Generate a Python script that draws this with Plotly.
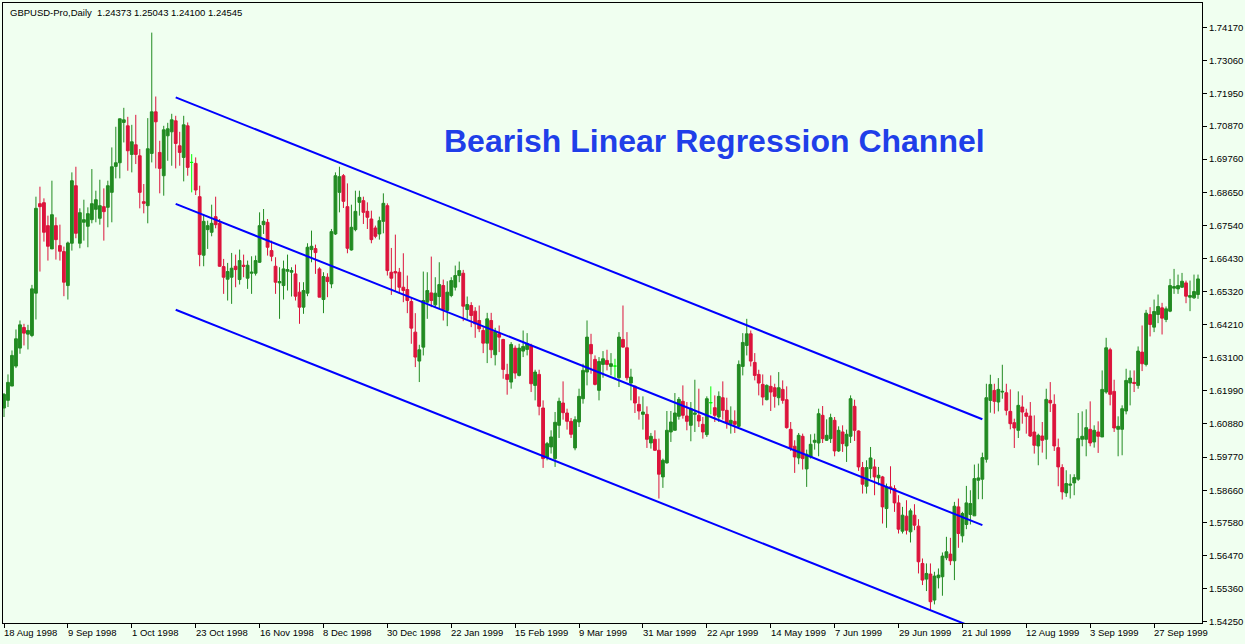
import plotly.graph_objects as go

# ---------------- data ----------------
bar_index = list(range(300))

open_ = [
    1.61415, 1.61672, 1.62152, 1.62821, 1.63424, 1.64116, 1.63893, 1.63848, 1.65266, 1.68268,
    1.68301, 1.67531, 1.66750, 1.67531, 1.66861, 1.66661, 1.65522, 1.66940, 1.68870, 1.66940,
    1.67643, 1.67509, 1.67732, 1.68078, 1.67777, 1.68167, 1.68145, 1.68647, 1.69517, 1.69640,
    1.70991, 1.70879, 1.69919, 1.70243, 1.69875, 1.68335, 1.68201, 1.69953, 1.71348, 1.69986,
    1.69205, 1.70544, 1.70677, 1.71046, 1.70209, 1.69819, 1.70879, 1.69651, 1.69618, 1.68502,
    1.66538, 1.67397, 1.67308, 1.67832, 1.67609, 1.66158, 1.65734, 1.65801, 1.66169, 1.65723,
    1.66203, 1.65768, 1.65935, 1.65935, 1.66303, 1.67564, 1.67642, 1.66694, 1.66169, 1.65611,
    1.65522, 1.66002, 1.65969, 1.65913, 1.65299, 1.64797, 1.65266, 1.66728, 1.66761, 1.66080,
    1.65054, 1.65801, 1.65578, 1.67252, 1.68647, 1.69205, 1.68167, 1.66716, 1.67397, 1.68312,
    1.68368, 1.68011, 1.67754, 1.67453, 1.67252, 1.67676, 1.68200, 1.65968, 1.65991, 1.65968,
    1.65466, 1.65388, 1.64986, 1.63960, 1.62989, 1.63457, 1.64964, 1.65276, 1.64875, 1.65154,
    1.65522, 1.64685, 1.65187, 1.65466, 1.65857, 1.65935, 1.64718, 1.64852, 1.64663, 1.64350,
    1.64015, 1.63591, 1.64350, 1.63201, 1.63904, 1.63714, 1.62542, 1.62286, 1.63424, 1.62509,
    1.63324, 1.63380, 1.63514, 1.62174, 1.62543, 1.61416, 1.59775, 1.60110, 1.59719, 1.60835,
    1.61583, 1.61248, 1.60969, 1.60076, 1.60947, 1.61728, 1.62621, 1.63547, 1.63045, 1.62007,
    1.62877, 1.63011, 1.62811, 1.62822, 1.62431, 1.63715, 1.63436, 1.62252, 1.62141, 1.61538,
    1.61203, 1.61203, 1.60244, 1.60366, 1.59998, 1.59105, 1.59574, 1.60612, 1.60668, 1.61137,
    1.61639, 1.61148, 1.60835, 1.61203, 1.61170, 1.60868, 1.60522, 1.61594, 1.61426, 1.61114,
    1.61761, 1.61337, 1.60891, 1.60969, 1.60801, 1.62810, 1.63513, 1.63904, 1.62944, 1.62542,
    1.62208, 1.61694, 1.62141, 1.62096, 1.61761, 1.62040, 1.61694, 1.60701, 1.60132, 1.59741,
    1.60467, 1.59373, 1.59775, 1.60266, 1.60243, 1.61170, 1.60333, 1.60388, 1.61002, 1.59975,
    1.60612, 1.60143, 1.60467, 1.61471, 1.60645, 1.59418, 1.58792, 1.59384, 1.59439, 1.59071,
    1.59105, 1.58044, 1.58770, 1.58714, 1.58234, 1.57285, 1.57788, 1.57263, 1.57821, 1.57453,
    1.56203, 1.55678, 1.55846, 1.54975, 1.55723, 1.55757, 1.56393, 1.56516, 1.56293, 1.58100,
    1.57129, 1.57509, 1.57844, 1.57799, 1.58993, 1.59027, 1.59696, 1.61671, 1.62006, 1.61616,
    1.61950, 1.61928, 1.61303, 1.60924, 1.60667, 1.61448, 1.61247, 1.61147, 1.60611, 1.60143,
    1.60477, 1.60366, 1.61672, 1.61538, 1.60087, 1.59418, 1.58569, 1.58826, 1.58904, 1.59027,
    1.60366, 1.60366, 1.60701, 1.60277, 1.60612, 1.60444, 1.61951, 1.63368, 1.61973, 1.60701,
    1.60701, 1.61315, 1.62252, 1.62274, 1.62174, 1.63290, 1.62877, 1.64551, 1.64127, 1.64551,
    1.64774, 1.64384, 1.64663, 1.65433, 1.65410, 1.65466, 1.65611, 1.65131, 1.65109, 1.65221,
]

high = [
    1.61918, 1.62542, 1.63346, 1.64049, 1.64350, 1.64239, 1.64205, 1.65545, 1.68502, 1.68837,
    1.68446, 1.67866, 1.69038, 1.67810, 1.67564, 1.66828, 1.66995, 1.69317, 1.69506, 1.68111,
    1.68401, 1.68145, 1.69428, 1.68703, 1.69071, 1.68781, 1.69038, 1.70154, 1.70846, 1.71124,
    1.71482, 1.71180, 1.70912, 1.71247, 1.70098, 1.68926, 1.71136, 1.74004, 1.71861, 1.70377,
    1.70879, 1.70979, 1.71281, 1.71214, 1.70677, 1.71214, 1.70991, 1.69930, 1.69819, 1.68870,
    1.67922, 1.67698, 1.68234, 1.68502, 1.67754, 1.66415, 1.66281, 1.66616, 1.66560, 1.66728,
    1.66560, 1.66359, 1.66504, 1.66527, 1.67977, 1.68089, 1.67754, 1.67029, 1.66471, 1.66136,
    1.66359, 1.66560, 1.66136, 1.66225, 1.65634, 1.65634, 1.66940, 1.67364, 1.66895, 1.66136,
    1.65969, 1.65935, 1.67420, 1.69317, 1.69506, 1.69261, 1.68948, 1.68234, 1.68703, 1.68703,
    1.68502, 1.68312, 1.68033, 1.67531, 1.67832, 1.68614, 1.68279, 1.66783, 1.67230, 1.66113,
    1.66604, 1.65857, 1.65131, 1.64596, 1.63536, 1.65991, 1.65968, 1.66493, 1.65801, 1.66303,
    1.65723, 1.65667, 1.65801, 1.66192, 1.66326, 1.66047, 1.65154, 1.64964, 1.64797, 1.64852,
    1.64127, 1.64607, 1.64607, 1.64105, 1.64183, 1.63737, 1.62899, 1.63625, 1.63513, 1.63569,
    1.64015, 1.63927, 1.63570, 1.62699, 1.62699, 1.61672, 1.60277, 1.60668, 1.61282, 1.61762,
    1.62308, 1.61393, 1.61081, 1.61137, 1.62063, 1.62900, 1.64351, 1.63904, 1.63179, 1.63123,
    1.63324, 1.63369, 1.63257, 1.63067, 1.63960, 1.64853, 1.63960, 1.62732, 1.62174, 1.61806,
    1.61806, 1.61471, 1.60579, 1.60668, 1.60389, 1.59719, 1.61315, 1.61315, 1.61918, 1.61784,
    1.62174, 1.61616, 1.61616, 1.62364, 1.62063, 1.61114, 1.61806, 1.62141, 1.61839, 1.61973,
    1.62308, 1.61761, 1.61471, 1.61337, 1.63011, 1.63926, 1.64406, 1.64015, 1.63257, 1.62699,
    1.62542, 1.62208, 1.62509, 1.62230, 1.62620, 1.62341, 1.62141, 1.60946, 1.60333, 1.60578,
    1.60556, 1.60020, 1.60534, 1.60556, 1.61393, 1.61482, 1.61036, 1.61225, 1.61114, 1.60801,
    1.60835, 1.60690, 1.61839, 1.61694, 1.60667, 1.59607, 1.59663, 1.60109, 1.59696, 1.59439,
    1.59138, 1.58881, 1.59462, 1.58826, 1.58491, 1.58100, 1.58323, 1.58044, 1.58190, 1.57687,
    1.56370, 1.56203, 1.56203, 1.55924, 1.56035, 1.56572, 1.57096, 1.57062, 1.58267, 1.58379,
    1.57933, 1.58803, 1.58658, 1.59518, 1.59551, 1.59919, 1.62229, 1.62531, 1.62229, 1.62419,
    1.62866, 1.62229, 1.62040, 1.61057, 1.61973, 1.61839, 1.61392, 1.61616, 1.61169, 1.60555,
    1.60946, 1.62062, 1.62285, 1.61873, 1.60389, 1.59529, 1.59328, 1.59194, 1.59194, 1.61248,
    1.61303, 1.61371, 1.61638, 1.60835, 1.60969, 1.62676, 1.63770, 1.63435, 1.62364, 1.61136,
    1.61505, 1.62732, 1.62676, 1.62676, 1.63480, 1.64183, 1.64707, 1.64797, 1.65053, 1.65221,
    1.64942, 1.64819, 1.65745, 1.66080, 1.65890, 1.65946, 1.65689, 1.65689, 1.65890, 1.65890,
]

low = [
    1.61114, 1.61449, 1.62152, 1.62755, 1.63234, 1.63513, 1.63379, 1.63792, 1.64384, 1.65991,
    1.66995, 1.66359, 1.66750, 1.66393, 1.66359, 1.65165, 1.65053, 1.66694, 1.67107, 1.66772,
    1.67029, 1.66806, 1.67609, 1.67643, 1.67564, 1.67029, 1.67475, 1.67643, 1.69116, 1.69116,
    1.70321, 1.69372, 1.69317, 1.69596, 1.68111, 1.67944, 1.67609, 1.69651, 1.69451, 1.68614,
    1.68535, 1.69707, 1.69540, 1.69451, 1.69540, 1.69015, 1.69205, 1.68647, 1.68558, 1.66169,
    1.66169, 1.66750, 1.67174, 1.67442, 1.66150, 1.65243, 1.65020, 1.64908, 1.65466, 1.65556,
    1.65801, 1.65411, 1.65243, 1.65857, 1.66281, 1.67252, 1.66527, 1.66337, 1.65243, 1.64406,
    1.65054, 1.65355, 1.65154, 1.65020, 1.64239, 1.64574, 1.65165, 1.66303, 1.65913, 1.65132,
    1.64596, 1.65132, 1.65433, 1.67218, 1.67977, 1.68123, 1.66604, 1.66694, 1.67341, 1.67866,
    1.67587, 1.67419, 1.66939, 1.67107, 1.67062, 1.67274, 1.65857, 1.65209, 1.65332, 1.65243,
    1.64964, 1.64596, 1.63569, 1.62788, 1.62286, 1.63178, 1.64406, 1.64797, 1.64797, 1.64741,
    1.64350, 1.64160, 1.65131, 1.65355, 1.65634, 1.64328, 1.64406, 1.64127, 1.63770, 1.63960,
    1.63256, 1.62922, 1.63089, 1.62844, 1.63290, 1.62397, 1.61862, 1.62063, 1.62397, 1.62475,
    1.63123, 1.63179, 1.61951, 1.61672, 1.61170, 1.59407, 1.59663, 1.59887, 1.59440, 1.60411,
    1.61025, 1.60690, 1.60411, 1.59998, 1.60779, 1.61561, 1.62174, 1.62565, 1.62174, 1.61672,
    1.62431, 1.62677, 1.62509, 1.62398, 1.62119, 1.63436, 1.62342, 1.61672, 1.61248, 1.61025,
    1.60690, 1.60076, 1.60054, 1.59976, 1.58380, 1.58737, 1.59552, 1.60277, 1.60668, 1.61025,
    1.61059, 1.60668, 1.60300, 1.60612, 1.60779, 1.60388, 1.60444, 1.61203, 1.60946, 1.60946,
    1.61025, 1.60723, 1.60556, 1.60578, 1.60779, 1.62509, 1.63178, 1.62810, 1.62342, 1.61839,
    1.61504, 1.61672, 1.61315, 1.61426, 1.61504, 1.61560, 1.60723, 1.59975, 1.59239, 1.59529,
    1.59351, 1.58770, 1.59719, 1.60020, 1.59797, 1.60243, 1.60310, 1.60243, 1.59797, 1.59942,
    1.59942, 1.59607, 1.60243, 1.60310, 1.59306, 1.58547, 1.58547, 1.59049, 1.58491, 1.58826,
    1.57542, 1.57397, 1.58547, 1.57933, 1.57207, 1.57207, 1.57174, 1.56906, 1.57319, 1.55868,
    1.55478, 1.55277, 1.54641, 1.54830, 1.55366, 1.55120, 1.56315, 1.56147, 1.55645, 1.56727,
    1.56906, 1.57352, 1.57509, 1.57799, 1.58357, 1.58357, 1.59585, 1.61259, 1.61225, 1.61303,
    1.61727, 1.61169, 1.60700, 1.60075, 1.60410, 1.60890, 1.60555, 1.60444, 1.59886, 1.59495,
    1.59919, 1.59696, 1.61281, 1.59976, 1.58792, 1.58346, 1.58435, 1.58380, 1.58491, 1.58971,
    1.60132, 1.59797, 1.60132, 1.60087, 1.59909, 1.60444, 1.61895, 1.61504, 1.60612, 1.59797,
    1.59831, 1.61203, 1.61504, 1.61951, 1.62062, 1.62654, 1.62810, 1.63815, 1.63960, 1.64261,
    1.63881, 1.64294, 1.64629, 1.65243, 1.65243, 1.65444, 1.64930, 1.64663, 1.65076, 1.65076,
]

close = [
    1.61873, 1.62275, 1.63179, 1.63737, 1.64205, 1.63926, 1.64016, 1.65411, 1.68111, 1.68167,
    1.67308, 1.66839, 1.67899, 1.67062, 1.66672, 1.65634, 1.66951, 1.69038, 1.67274, 1.67966,
    1.67732, 1.67933, 1.68268, 1.68401, 1.68201, 1.68000, 1.68870, 1.69506, 1.69640, 1.71113,
    1.71080, 1.70042, 1.70343, 1.69919, 1.68647, 1.68279, 1.70109, 1.71348, 1.71013, 1.69451,
    1.70745, 1.70779, 1.71080, 1.70287, 1.69986, 1.70912, 1.69484, 1.69651, 1.68725, 1.66560,
    1.67676, 1.67531, 1.67609, 1.67564, 1.66169, 1.65801, 1.65991, 1.66103, 1.66058, 1.66359,
    1.66169, 1.66203, 1.65969, 1.66359, 1.67531, 1.67676, 1.66806, 1.66504, 1.65634, 1.65656,
    1.66080, 1.66058, 1.66024, 1.65165, 1.64797, 1.65355, 1.66806, 1.66839, 1.66627, 1.65132,
    1.65824, 1.65656, 1.67330, 1.69205, 1.69172, 1.68346, 1.66772, 1.67475, 1.68011, 1.68479,
    1.67977, 1.67810, 1.67062, 1.67174, 1.67698, 1.68279, 1.66024, 1.65768, 1.65946, 1.65466,
    1.65355, 1.65020, 1.64094, 1.63123, 1.63368, 1.65020, 1.65355, 1.65020, 1.65265, 1.65555,
    1.64718, 1.65299, 1.65689, 1.65857, 1.66024, 1.64830, 1.64886, 1.64518, 1.64239, 1.64071,
    1.63591, 1.64406, 1.63368, 1.63982, 1.63792, 1.62710, 1.62375, 1.63547, 1.62587, 1.63424,
    1.63480, 1.63570, 1.62230, 1.62621, 1.61471, 1.59719, 1.60221, 1.60445, 1.60936, 1.61639,
    1.61259, 1.60969, 1.60534, 1.61025, 1.61806, 1.62677, 1.63793, 1.63235, 1.62208, 1.62978,
    1.63067, 1.62877, 1.62900, 1.62822, 1.63793, 1.63458, 1.62431, 1.62453, 1.61583, 1.61315,
    1.61282, 1.60366, 1.60467, 1.59998, 1.59195, 1.59663, 1.60668, 1.60947, 1.61248, 1.61706,
    1.61170, 1.60969, 1.61393, 1.61248, 1.60980, 1.60612, 1.61728, 1.61594, 1.61170, 1.61806,
    1.61337, 1.60913, 1.61002, 1.60868, 1.62877, 1.63614, 1.63904, 1.62989, 1.62509, 1.62252,
    1.61783, 1.62174, 1.61951, 1.61806, 1.62096, 1.61672, 1.60757, 1.60087, 1.59775, 1.60500,
    1.59719, 1.59864, 1.60199, 1.60333, 1.61225, 1.60388, 1.60500, 1.61092, 1.59975, 1.60667,
    1.60221, 1.60534, 1.61728, 1.60667, 1.59440, 1.58860, 1.59418, 1.59741, 1.59105, 1.59160,
    1.58100, 1.58770, 1.58714, 1.58234, 1.57352, 1.57821, 1.57319, 1.57966, 1.57486, 1.56259,
    1.55645, 1.55868, 1.54920, 1.55779, 1.55812, 1.56449, 1.56594, 1.56293, 1.58122, 1.57207,
    1.57877, 1.58234, 1.58212, 1.59049, 1.59071, 1.59752, 1.61761, 1.62207, 1.61638, 1.62040,
    1.61973, 1.61337, 1.60890, 1.60745, 1.61504, 1.61281, 1.61136, 1.60477, 1.60165, 1.60500,
    1.60332, 1.61705, 1.61583, 1.60143, 1.59440, 1.58603, 1.58882, 1.58860, 1.59083, 1.60389,
    1.60467, 1.60757, 1.60243, 1.60667, 1.60467, 1.62040, 1.63435, 1.61873, 1.60746, 1.60801,
    1.61393, 1.62341, 1.62420, 1.62241, 1.63324, 1.62900, 1.64596, 1.64216, 1.64652, 1.64819,
    1.64428, 1.64741, 1.65522, 1.65489, 1.65522, 1.65667, 1.65165, 1.65187, 1.65321, 1.65745,
]

date_tick_bars = [0, 16, 32, 48, 64, 80, 96, 112, 128, 144, 160, 176, 192, 208, 224, 240, 256, 272, 288]
date_tick_labels = [
    "18 Aug 1998", "9 Sep 1998", "1 Oct 1998", "23 Oct 1998", "16 Nov 1998", "8 Dec 1998",
    "30 Dec 1998", "22 Jan 1999", "15 Feb 1999", "9 Mar 1999", "31 Mar 1999", "22 Apr 1999",
    "14 May 1999", "7 Jun 1999", "29 Jun 1999", "21 Jul 1999", "12 Aug 1999", "3 Sep 1999",
    "27 Sep 1999",
]
price_ticks = [1.74170, 1.73060, 1.71950, 1.70870, 1.69760, 1.68650, 1.67540, 1.66430, 1.65320,
               1.64210, 1.63100, 1.61990, 1.60880, 1.59770, 1.58660, 1.57580, 1.56470, 1.55360,
               1.54250]

channel_x = [43, 245]
channel_upper = [1.7183, 1.6104]
channel_middle = [1.6826, 1.5749]
channel_lower = [1.6471, 1.5394]

header_text = "GBPUSD-Pro,Daily \u00a01.24373 1.25043 1.24100 1.24545"
title_text = "Bearish Linear Regression Channel"

# ---------------- figure ----------------
BG = "#F0FFF0"
UP = "#228B22"
DOWN = "#DC143C"
DOJI = "#00FF00"
CHAN = "#0000FF"
FONT = "Liberation Sans, Arial, sans-serif"

doji = [i for i in bar_index if open_[i] == close[i]]
norm = [i for i in bar_index if open_[i] != close[i]]

fig = go.Figure()

fig.add_trace(go.Candlestick(
    x=[bar_index[i] for i in norm],
    open=[open_[i] for i in norm], high=[high[i] for i in norm],
    low=[low[i] for i in norm], close=[close[i] for i in norm],
    increasing=dict(line=dict(color=UP, width=1), fillcolor=UP),
    decreasing=dict(line=dict(color=DOWN, width=1), fillcolor=DOWN),
    whiskerwidth=0, hoverinfo="skip", showlegend=False,
))
fig.add_trace(go.Candlestick(
    x=[bar_index[i] for i in doji],
    open=[open_[i] for i in doji], high=[high[i] for i in doji],
    low=[low[i] for i in doji], close=[close[i] for i in doji],
    increasing=dict(line=dict(color=DOJI, width=1), fillcolor=DOJI),
    decreasing=dict(line=dict(color=DOJI, width=1), fillcolor=DOJI),
    whiskerwidth=0, hoverinfo="skip", showlegend=False,
))

for ys in (channel_upper, channel_middle, channel_lower):
    fig.add_trace(go.Scatter(
        x=channel_x, y=ys, mode="lines",
        line=dict(color=CHAN, width=2), hoverinfo="skip", showlegend=False,
    ))

annotations = []
for b, lab in zip(date_tick_bars, date_tick_labels):
    annotations.append(dict(
        x=b, y=0, xref="x", yref="paper", text=lab, showarrow=False,
        xanchor="left", yanchor="top", xshift=-2, yshift=-2,
        font=dict(family=FONT, size=9.5, color="black"),
    ))
annotations.append(dict(
    x=0.004, y=0.984, xref="paper", yref="paper", text=header_text, showarrow=False,
    xanchor="left", yanchor="middle",
    font=dict(family=FONT, size=9.5, color="black"),
))
annotations.append(dict(
    x=0.593, y=0.778, xref="paper", yref="paper", text="<b>" + title_text + "</b>",
    showarrow=False, xanchor="center", yanchor="middle",
    font=dict(family=FONT, size=32, color="#1f3fe8", shadow="1px 1px 2px #ffffff"),
))

fig.update_layout(
    width=1245, height=644,
    margin=dict(l=2, r=42, t=2, b=21),
    paper_bgcolor=BG, plot_bgcolor=BG,
    boxgap=0.3, boxgroupgap=0.0,
    annotations=annotations,
    xaxis=dict(
        range=[-0.25, 300], showgrid=False, zeroline=False,
        tickvals=date_tick_bars, ticktext=[""] * len(date_tick_bars),
        ticks="outside", ticklen=4, tickcolor="black", tickwidth=1,
        showline=True, linecolor="black", linewidth=1, mirror=True,
        rangeslider=dict(visible=False), fixedrange=True,
    ),
    yaxis=dict(
        range=[1.54206, 1.74997], side="right", showgrid=False, zeroline=False,
        tickvals=price_ticks, ticktext=["%.5f" % v for v in price_ticks],
        ticks="outside", ticklen=4, tickcolor="black", tickwidth=1,
        tickfont=dict(family=FONT, size=9.5, color="black"),
        showline=True, linecolor="black", linewidth=1, mirror=True, fixedrange=True,
    ),
)

fig.write_html(
    "out.html",
    config={"displayModeBar": False},
    post_script="document.body.style.margin='0';document.body.style.background='%s';" % BG,
)
